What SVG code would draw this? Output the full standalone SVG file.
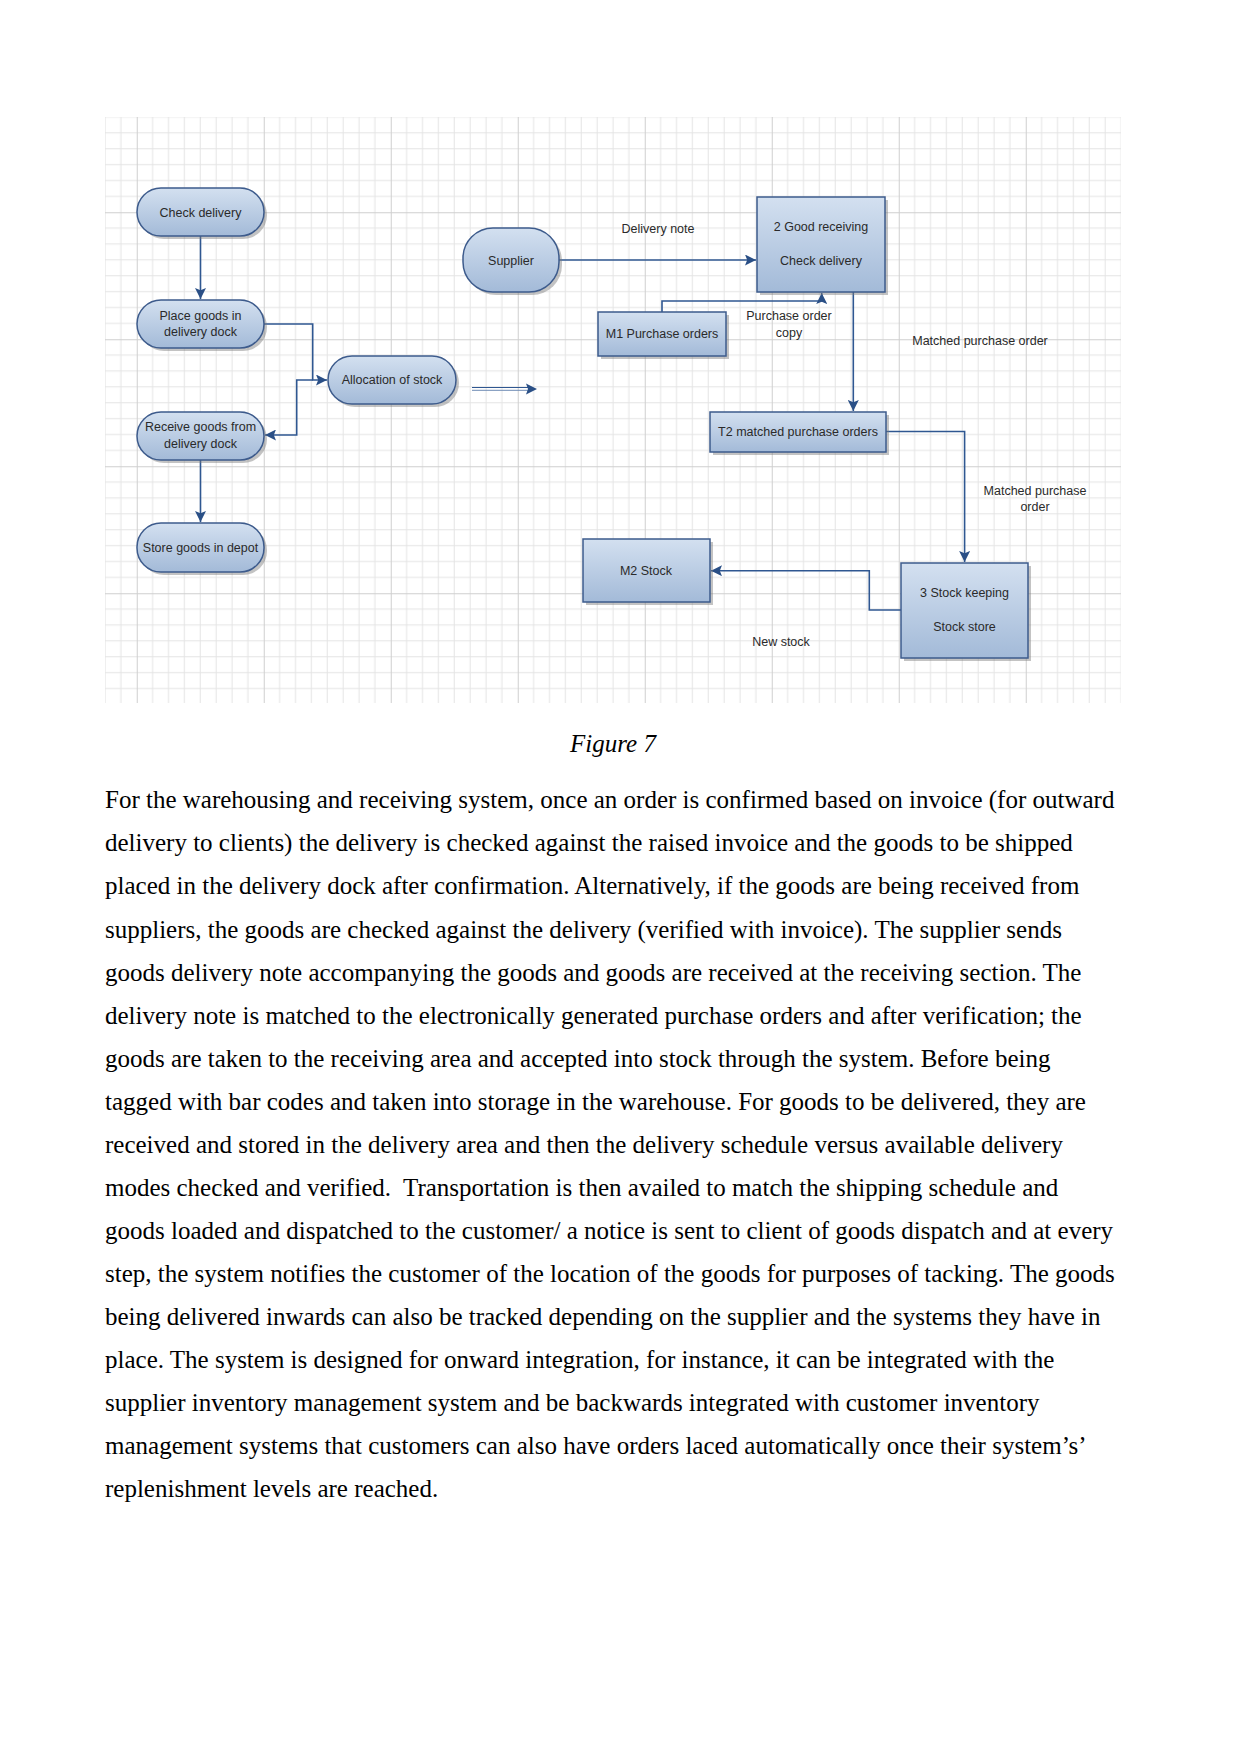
<svg xmlns="http://www.w3.org/2000/svg" width="1241" height="1754" viewBox="0 0 1241 1754">
<style>
.box{fill:url(#bg);stroke:#3d5b8c;stroke-width:1.5}
.sh{fill:#7a7a7a;opacity:.45}
.lbl{font-family:"Liberation Sans",Arial,sans-serif;font-size:12.5px;fill:#2a2a2a;text-anchor:middle}
.conn{fill:none;stroke:#2f5791;stroke-width:1.6}
.body{font-family:"Liberation Serif","Times New Roman",serif;font-size:25px;fill:#000}
</style>
<defs>
<linearGradient id="bg" x1="0" y1="0" x2="0" y2="1">
<stop offset="0" stop-color="#d3e0f0"/>
<stop offset="1" stop-color="#a3bad8"/>
</linearGradient>
<pattern id="grid" patternUnits="userSpaceOnUse" x="136.75" y="212.25" width="127" height="127">
<path d="M15.875 0V127M31.75 0V127M47.625 0V127M63.5 0V127M79.375 0V127M95.25 0V127M111.125 0V127M0 15.875H127M0 31.75H127M0 47.625H127M0 63.5H127M0 79.375H127M0 95.25H127M0 111.125H127" stroke="#e4e4e4" stroke-width="1" fill="none"/>
<path d="M0.5 0V127M0 0.5H127" stroke="#cfcfcf" stroke-width="1" fill="none"/>
</pattern>
<marker id="arr" markerUnits="userSpaceOnUse" markerWidth="11" markerHeight="11" viewBox="0 0 10 10" refX="10" refY="5" orient="auto">
<path d="M0,0 L10,5 L0,10 L2,5 z" fill="#2a4f86"/>
</marker>
</defs>
<rect width="1241" height="1754" fill="#fff"/>
<rect x="105" y="117" width="1016" height="586" fill="url(#grid)"/>

<g id="connectors">
<path class="conn" d="M200.5,236 V299" marker-end="url(#arr)"/>
<path class="conn" d="M264,324 H312.7 V380 H327" marker-end="url(#arr)"/>
<path class="conn" d="M312.7,380 H296.7 V435 H265" marker-end="url(#arr)"/>
<path class="conn" d="M200.5,460 V522" marker-end="url(#arr)"/>
<path d="M472,387.5 H530" stroke="#2f5791" stroke-width="1.2" fill="none"/>
<path d="M472,390.3 H530" stroke="#6f8bb5" stroke-width="1" fill="none"/>
<path d="M526,383.5 L537,389 L526,394.5 L528,389 z" fill="#2a4f86"/>
<path class="conn" d="M559,260 H756" marker-end="url(#arr)"/>
<path class="conn" d="M662,312 V301 H821.7 V293" marker-end="url(#arr)"/>
<path class="conn" d="M853.3,292 V411" marker-end="url(#arr)"/>
<path class="conn" d="M886,431.5 H964.6 V562" marker-end="url(#arr)"/>
<path class="conn" d="M901,610 H869.3 V570.7 H711" marker-end="url(#arr)"/>
</g>

<g id="check-delivery">
<rect class="sh" x="140" y="191" width="127" height="48" rx="24"/>
<rect class="box" x="137" y="188" width="127" height="48" rx="24"/>
<text class="lbl" x="200.5" y="216.5">Check delivery</text>
</g>
<g id="place-goods">
<rect class="sh" x="140" y="303" width="127" height="48" rx="24"/>
<rect class="box" x="137" y="300" width="127" height="48" rx="24"/>
<text class="lbl" x="200.5" y="319.5">Place goods in</text>
<text class="lbl" x="200.5" y="336">delivery dock</text>
</g>
<g id="allocation-of-stock">
<rect class="sh" x="331" y="359" width="128" height="48" rx="24"/>
<rect class="box" x="328" y="356" width="128" height="48" rx="24"/>
<text class="lbl" x="392" y="383.5">Allocation of stock</text>
</g>
<g id="receive-goods">
<rect class="sh" x="140" y="415" width="127" height="48" rx="24"/>
<rect class="box" x="137" y="412" width="127" height="48" rx="24"/>
<text class="lbl" x="200.5" y="431">Receive goods from</text>
<text class="lbl" x="200.5" y="447.5">delivery dock</text>
</g>
<g id="store-goods">
<rect class="sh" x="140" y="526" width="127" height="49" rx="24"/>
<rect class="box" x="137" y="523" width="127" height="49" rx="24"/>
<text class="lbl" x="200.5" y="551.5">Store goods in depot</text>
</g>
<g id="supplier">
<rect class="sh" x="466" y="231" width="96" height="64" rx="30"/>
<rect class="box" x="463" y="228" width="96" height="64" rx="30"/>
<text class="lbl" x="511" y="264.5">Supplier</text>
</g>
<g id="good-receiving">
<rect class="sh" x="760" y="200" width="128" height="95"/>
<rect class="box" x="757" y="197" width="128" height="95"/>
<text class="lbl" x="821" y="231">2 Good receiving</text>
<text class="lbl" x="821" y="265">Check delivery</text>
</g>
<g id="m1-purchase-orders">
<rect class="sh" x="601" y="315" width="128" height="44"/>
<rect class="box" x="598" y="312" width="128" height="44"/>
<text class="lbl" x="662" y="337.5">M1 Purchase orders</text>
</g>
<g id="t2-matched">
<rect class="sh" x="713" y="415" width="176" height="40"/>
<rect class="box" x="710" y="412" width="176" height="40"/>
<text class="lbl" x="798" y="435.5">T2 matched purchase orders</text>
</g>
<g id="m2-stock">
<rect class="sh" x="586" y="542" width="127" height="63"/>
<rect class="box" x="583" y="539" width="127" height="63"/>
<text class="lbl" x="646" y="574.5">M2 Stock</text>
</g>
<g id="stock-keeping">
<rect class="sh" x="904" y="566" width="127" height="95"/>
<rect class="box" x="901" y="563" width="127" height="95"/>
<text class="lbl" x="964.5" y="597">3 Stock keeping</text>
<text class="lbl" x="964.5" y="631">Stock store</text>
</g>

<g id="labels">
<text class="lbl" x="658" y="232.5">Delivery note</text>
<text class="lbl" x="789" y="319.5">Purchase order</text>
<text class="lbl" x="789" y="336.5">copy</text>
<text class="lbl" x="980" y="344.5">Matched purchase order</text>
<text class="lbl" x="1035" y="494.5">Matched purchase</text>
<text class="lbl" x="1035" y="511">order</text>
<text class="lbl" x="781" y="646">New stock</text>
</g>

<text x="613" y="752" font-family="'Liberation Serif','Times New Roman',serif" font-size="25" font-style="italic" text-anchor="middle">Figure 7</text>

<g class="body">
<text class="body" x="105" y="808.3">For the warehousing and receiving system, once an order is confirmed based on invoice (for outward</text>
<text class="body" x="105" y="851.4">delivery to clients) the delivery is checked against the raised invoice and the goods to be shipped</text>
<text class="body" x="105" y="894.4">placed in the delivery dock after confirmation. Alternatively, if the goods are being received from</text>
<text class="body" x="105" y="937.5">suppliers, the goods are checked against the delivery (verified with invoice). The supplier sends</text>
<text class="body" x="105" y="980.5">goods delivery note accompanying the goods and goods are received at the receiving section. The</text>
<text class="body" x="105" y="1023.6">delivery note is matched to the electronically generated purchase orders and after verification; the</text>
<text class="body" x="105" y="1066.7">goods are taken to the receiving area and accepted into stock through the system. Before being</text>
<text class="body" x="105" y="1109.7">tagged with bar codes and taken into storage in the warehouse. For goods to be delivered, they are</text>
<text class="body" x="105" y="1152.8">received and stored in the delivery area and then the delivery schedule versus available delivery</text>
<text class="body" x="105" y="1195.8" xml:space="preserve">modes checked and verified.  Transportation is then availed to match the shipping schedule and</text>
<text class="body" x="105" y="1238.9">goods loaded and dispatched to the customer/ a notice is sent to client of goods dispatch and at every</text>
<text class="body" x="105" y="1282">step, the system notifies the customer of the location of the goods for purposes of tacking. The goods</text>
<text class="body" x="105" y="1325">being delivered inwards can also be tracked depending on the supplier and the systems they have in</text>
<text class="body" x="105" y="1368.1">place. The system is designed for onward integration, for instance, it can be integrated with the</text>
<text class="body" x="105" y="1411.1">supplier inventory management system and be backwards integrated with customer inventory</text>
<text class="body" x="105" y="1454.2">management systems that customers can also have orders laced automatically once their system’s’</text>
<text class="body" x="105" y="1497.3">replenishment levels are reached.</text>
</g>
</svg>
